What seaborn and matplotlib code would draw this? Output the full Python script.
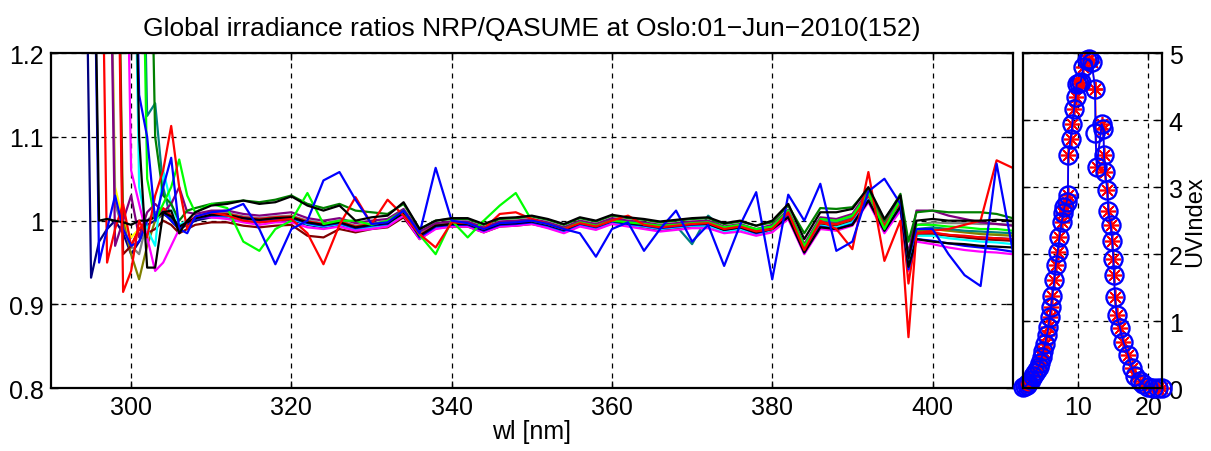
import numpy as np
import pandas as pd
import matplotlib
matplotlib.use('Agg')
import matplotlib.pyplot as plt
import seaborn as sns

nan = np.nan

# wavelength grid [nm]
wl = [294, 295, 296, 297, 298, 299, 300, 301, 302, 303, 304, 305, 306, 307, 308,
      310, 312, 314, 316, 318, 320, 322, 324, 326, 328, 330, 332, 334, 336,
      338, 340, 342, 344, 346, 348, 350, 352, 354, 356, 358, 360, 362, 364, 366, 368, 370, 372, 374, 376, 378, 380,
      382, 384, 386, 388, 390, 392, 394, 396, 397, 398,
      400, 402, 404, 406, 408, 410]

# ratio NRP/QASUME, one list per scan
r_navy = [1.6, 0.932, 0.975, 0.99, 1.0, 0.985, 0.96, 0.975, 0.995, 1.0, 1.008, 1.002, 0.99, 0.995, 1.0,
          1.004, 1.004, 1.0, 0.998, 1.0, 1.001, 0.995, 0.992, 0.995, 0.99, 0.993, 0.995, 1.006, 0.98,
          0.992, 0.994, 0.994, 0.987, 0.994, 0.995, 0.997, 0.993, 0.987, 0.995, 0.991, 0.998, 0.995, 0.993, 0.99, 0.992, 0.994, 0.995, 0.988, 0.991, 0.985, 0.99,
          1.006, 0.964, 0.996, 0.994, 1.0, 1.028, 0.992, 1.02, 0.944, 0.985,
          0.985, 0.983, 0.981, 0.98, 0.979, 0.978]
r_yellow = [nan, nan, nan, 1.6, 1.04, 1.0, 0.98, 0.99, 1.0, 1.005, 1.01, 1.005, 0.995, 1.0, 1.005,
            1.008, 1.007, 1.004, 1.002, 1.003, 1.004, 0.998, 0.996, 0.998, 0.993, 0.996, 0.998, 1.009, 0.983,
            0.995, 0.997, 0.997, 0.99, 0.997, 0.998, 1.0, 0.996, 0.99, 0.998, 0.994, 1.001, 0.998, 0.996, 0.993, 0.995, 0.997, 0.998, 0.991, 0.994, 0.988, 0.993,
            1.006, 0.966, 0.992, 0.988, 0.996, 1.028, 0.993, 1.02, 0.948, 0.988,
            0.99, 0.988, 0.987, 0.985, 0.984, 0.983]
r_olive = [nan, nan, nan, nan, 1.6, 1.0, 0.96, 0.93, 0.97, 1.0, 1.01, 1.0, 0.99, 0.996, 1.002,
           1.006, 1.006, 1.002, 1.0, 1.002, 1.003, 0.997, 0.994, 0.997, 0.991, 0.994, 0.996, 1.008, 0.981,
           0.993, 0.995, 0.995, 0.988, 0.995, 0.996, 0.998, 0.994, 0.988, 0.996, 0.992, 0.999, 0.996, 0.994, 0.991, 0.993, 0.995, 0.996, 0.989, 0.992, 0.986, 0.991,
           1.007, 0.965, 0.997, 0.995, 1.001, 1.029, 0.993, 1.021, 0.946, 0.987,
           0.99, 0.988, 0.986, 0.984, 0.983, 0.982]
r_gray = [nan, nan, nan, 1.6, 1.02, 0.99, 0.97, 0.96, 1.0, 1.01, 1.012, 1.004, 0.993, 0.998, 1.004,
          1.009, 1.009, 1.005, 1.003, 1.005, 1.006, 1.0, 0.997, 1.0, 0.994, 0.997, 0.999, 1.011, 0.984,
          0.996, 0.998, 0.998, 0.991, 0.998, 0.999, 1.001, 0.997, 0.991, 0.999, 0.995, 1.002, 0.999, 0.997, 0.994, 0.996, 0.998, 0.999, 0.992, 0.995, 0.989, 0.994,
          1.011, 0.969, 1.001, 0.999, 1.005, 1.033, 0.997, 1.025, 0.952, 0.995,
          0.998, 0.997, 0.997, 0.996, 0.996, 0.995]
r_teal = [nan, nan, nan, nan, nan, nan, nan, 1.6, 1.125, 1.14, 1.04, 1.0, 0.99, 0.998, 1.003,
          1.007, 1.006, 1.003, 1.001, 1.003, 1.003, 0.997, 0.995, 0.998, 0.992, 0.995, 0.997, 1.009, 0.982,
          0.994, 0.996, 0.996, 0.989, 0.996, 0.997, 0.999, 0.995, 0.989, 0.997, 0.993, 1.0, 0.997, 0.995, 0.992, 0.994, 0.972, 1.006, 0.99, 0.993, 0.987, 0.992,
          1.009, 0.967, 0.999, 0.997, 1.003, 1.031, 0.995, 1.023, 0.948, 0.99,
          0.992, 0.99, 0.988, 0.987, 0.986, 0.985]
r_brown = [nan, nan, nan, nan, 1.6, 0.96, 0.97, 0.99, 0.985, 0.99, 1.0, 0.995, 0.985, 0.99, 0.995,
           0.998, 0.998, 0.994, 0.992, 0.994, 0.995, 0.982, 0.98, 0.99, 0.986, 0.99, 0.992, 1.004, 0.978,
           0.991, 0.993, 0.993, 0.986, 0.993, 0.994, 0.996, 0.992, 0.986, 0.994, 0.99, 0.997, 0.994, 0.992, 0.989, 0.991, 0.993, 0.994, 0.987, 0.99, 0.984, 0.988,
           1.004, 0.963, 0.995, 0.993, 0.999, 1.027, 0.991, 1.019, 0.945, 0.983,
           0.984, 0.982, 0.98, 0.978, 0.977, 0.976]
r_cyan = [nan, nan, nan, nan, nan, nan, 1.6, 1.04, 0.99, 0.97, 1.06, 1.02, 0.995, 1.0, 1.004,
          1.005, 1.005, 1.0, 0.999, 1.001, 1.002, 0.996, 0.993, 0.996, 0.99, 0.993, 0.995, 1.007, 0.98,
          0.992, 0.994, 0.994, 0.987, 0.994, 0.995, 0.997, 0.993, 0.987, 0.995, 0.991, 0.998, 0.995, 0.993, 0.99, 0.992, 0.994, 0.994, 0.987, 0.99, 0.984, 0.989,
          1.005, 0.962, 0.994, 0.992, 0.998, 1.026, 0.99, 1.018, 0.945, 0.982,
          0.982, 0.979, 0.977, 0.975, 0.974, 0.972]
r_magenta = [nan, nan, nan, nan, nan, 1.6, 1.06, 1.02, 0.98, 0.94, 0.95, 0.97, 0.99, 1.0, 1.004,
             1.004, 1.002, 0.998, 0.995, 0.998, 0.998, 0.992, 0.99, 0.993, 0.988, 0.99, 0.993, 1.006, 0.978,
             0.99, 0.993, 0.993, 0.986, 0.993, 0.994, 0.996, 0.991, 0.985, 0.993, 0.989, 0.996, 0.993, 0.99, 0.987, 0.989, 0.991, 0.991, 0.985, 0.987, 0.982, 0.986,
             1.002, 0.96, 0.99, 0.988, 0.994, 1.022, 0.985, 1.012, 0.94, 0.975,
             0.972, 0.968, 0.965, 0.963, 0.962, 0.96]
r_purple = [nan, nan, nan, 1.6, 0.97, 1.0, 1.03, 0.98, 1.01, 1.02, 1.01, 1.02, 1.04, 1.01, 1.008,
            1.012, 1.012, 1.008, 1.006, 1.008, 1.01, 1.003, 1.0, 1.003, 0.997, 1.0, 1.002, 1.014, 0.987,
            0.997, 0.999, 0.999, 0.992, 0.999, 1.0, 1.002, 0.998, 0.992, 1.0, 0.996, 1.003, 1.0, 0.998, 0.995, 0.997, 0.999, 1.0, 0.993, 0.996, 0.99, 0.995,
            1.013, 0.972, 1.004, 1.002, 1.008, 1.036, 1.0, 1.028, 0.96, 1.012,
            1.012, 1.006, 1.002, 0.998, 0.996, 0.994]
r_red2 = [nan, nan, 1.6, 0.95, 0.99, 1.02, 0.97, 0.99, 1.0, 1.005, 1.015, 1.006, 0.992, 0.998, 1.004,
          1.008, 1.008, 1.004, 1.002, 1.004, 1.005, 0.999, 0.996, 0.999, 0.993, 0.996, 0.998, 1.01, 0.983,
          0.994, 0.996, 0.996, 0.989, 0.996, 0.997, 0.999, 0.995, 0.989, 0.997, 0.993, 1.0, 0.997, 0.995, 0.992, 0.994, 0.996, 0.997, 0.99, 0.993, 0.987, 0.992,
          1.008, 0.966, 0.998, 0.996, 1.002, 1.03, 0.994, 1.022, 0.925, 0.985,
          0.986, 0.983, 0.982, 0.98, 0.979, 0.978]
r_blue2 = [nan, 1.6, 0.95, 0.99, 1.03, 0.99, 0.97, 0.975, 1.0, 1.005, 1.01, 1.0, 0.99, 0.996, 1.002,
           1.006, 1.006, 1.003, 1.0, 1.002, 1.003, 0.997, 0.994, 0.997, 0.991, 0.994, 0.996, 1.012, 0.98,
           0.993, 0.995, 0.995, 0.988, 0.995, 0.996, 0.998, 0.994, 0.988, 0.996, 0.992, 0.999, 0.996, 0.994, 0.991, 0.993, 0.995, 0.996, 0.989, 0.992, 0.985, 0.99,
           1.005, 0.962, 0.993, 0.99, 0.996, 1.024, 0.988, 1.016, 0.942, 0.978,
           0.976, 0.973, 0.97, 0.968, 0.966, 0.963]
r_black2 = [nan, 1.6, 1.0, 1.002, 1.0, 0.998, 0.995, 1.0, 1.0, 1.004, 1.01, 1.005, 0.993, 0.998, 1.003,
            1.007, 1.007, 1.003, 1.001, 1.003, 1.004, 0.998, 0.995, 0.998, 0.992, 0.995, 0.997, 1.009, 0.982,
            0.994, 0.996, 0.996, 0.989, 0.996, 0.997, 0.999, 0.995, 0.989, 0.997, 0.993, 1.0, 0.997, 0.995, 0.992, 0.994, 0.996, 0.996, 0.989, 0.992, 0.986, 0.99,
            1.004, 0.962, 0.992, 0.99, 0.995, 1.024, 0.988, 1.017, 0.945, 0.978,
            0.975, 0.973, 0.972, 0.97, 0.969, 0.968]
r_dkgreen = [nan, nan, nan, nan, nan, nan, nan, nan, 1.6, 1.1, 1.03, 1.02, 1.0, 1.012, 1.015,
             1.02, 1.022, 1.024, 1.022, 1.025, 1.03, 1.02, 1.015, 1.02, 1.012, 1.01, 1.008, 1.02, 0.99,
             1.0, 1.002, 1.002, 0.995, 1.002, 1.003, 1.005, 1.001, 0.995, 1.003, 0.999, 1.006, 1.003, 1.001, 0.998, 1.0, 1.002, 1.003, 0.996, 0.999, 0.994, 0.998,
             1.018, 0.985, 1.015, 1.014, 1.016, 1.038, 1.0, 1.032, 0.975, 1.01,
             1.012, 1.01, 1.01, 1.01, 1.008, 1.003]
r_green = [nan, nan, nan, nan, nan, nan, nan, 1.6, 1.05, 1.0, 1.02, 1.04, 1.073, 1.03, 1.01,
           1.02, 1.015, 0.975, 0.964, 0.99, 1.0, 1.033, 0.996, 1.0, 1.0, 0.995, 1.0, 1.012, 0.983,
           0.96, 1.0, 0.98, 1.0, 1.018, 1.033, 1.0, 0.996, 0.99, 0.998, 0.994, 1.0, 0.998, 0.996, 0.994, 0.995, 0.997, 0.998, 0.992, 0.995, 0.99, 0.993,
           1.012, 0.97, 1.002, 1.0, 1.006, 1.033, 0.99, 1.026, 0.955, 0.995,
           0.995, 0.993, 0.992, 0.99, 0.99, 0.988]
r_red = [nan, nan, nan, nan, 1.6, 0.915, 0.94, 1.0, 0.98, 1.03, 1.06, 1.113, 1.04, 0.99, 1.005,
         1.01, 1.006, 1.0, 0.998, 1.0, 1.002, 0.985, 0.948, 0.995, 1.028, 0.996, 1.025, 1.006, 0.984,
         0.968, 0.998, 0.997, 0.99, 1.008, 1.01, 1.002, 0.996, 0.99, 0.997, 0.993, 1.0, 1.006, 0.995, 0.992, 0.994, 0.996, 0.997, 0.99, 0.993, 0.987, 0.99,
         1.01, 0.965, 1.0, 0.99, 0.966, 1.058, 0.952, 1.0, 0.861, 0.985,
         0.988, 0.99, 0.995, 1.0, 1.072, 1.063]
r_blue = [nan, nan, nan, nan, nan, nan, 1.6, 1.15, 1.1, 1.0, 1.04, 1.075, 0.99, 0.985, 1.005,
          1.01, 1.012, 1.02, 0.99, 0.948, 0.99, 1.0, 1.048, 1.058, 1.025, 0.996, 0.998, 1.012, 0.985,
          1.063, 1.0, 0.997, 0.99, 0.997, 0.998, 1.0, 0.996, 0.99, 0.985, 0.957, 0.99, 0.998, 0.964, 0.99, 1.012, 0.975, 0.995, 0.946, 0.995, 1.034, 0.93,
          1.031, 1.0, 1.044, 0.964, 0.975, 1.035, 1.05, 1.02, 0.955, 0.99,
          0.99, 0.96, 0.935, 0.922, 1.068, 0.965]
r_black = [nan, nan, nan, nan, nan, nan, 1.6, 1.1, 0.944, 0.944, 1.01, 1.012, 0.985, 1.0, 1.01,
           1.018, 1.02, 1.024, 1.02, 1.022, 1.029, 1.018, 1.012, 1.018, 1.0, 1.004, 1.006, 1.022, 0.99,
           1.0, 1.003, 1.003, 0.996, 1.003, 1.004, 1.006, 1.002, 0.996, 1.004, 1.0, 1.007, 1.004, 1.002, 0.999, 1.001, 1.003, 1.004, 0.997, 1.0, 0.994, 1.0,
           1.02, 0.978, 1.01, 1.01, 1.014, 1.04, 1.002, 1.03, 0.955, 1.0,
           1.002, 1.0, 1.0, 1.0, 1.001, 1.0]

scans = {
    'navy': (r_navy, (0, 0, 0.5)),
    'yellow': (r_yellow, (1, 1, 0)),
    'olive': (r_olive, (0.5, 0.5, 0)),
    'gray': (r_gray, (0.5, 0.5, 0.5)),
    'teal': (r_teal, (0, 0.5, 0.5)),
    'brown': (r_brown, (0.5, 0, 0)),
    'cyan': (r_cyan, (0, 1, 1)),
    'magenta': (r_magenta, (1, 0, 1)),
    'purple': (r_purple, (0.5, 0, 0.5)),
    'red2': (r_red2, (1, 0, 0)),
    'blue2': (r_blue2, (0, 0, 1)),
    'black2': (r_black2, (0, 0, 0)),
    'dkgreen': (r_dkgreen, (0, 0.5, 0)),
    'green': (r_green, (0, 1, 0)),
    'red': (r_red, (1, 0, 0)),
    'blue': (r_blue, (0, 0, 1)),
    'black': (r_black, (0, 0, 0)),
}

# UV index time series (hours)
uv_time = [2.2, 2.5, 2.8, 3.0, 3.35, 3.7, 3.95, 4.2, 4.45, 4.66, 4.9, 5.13, 5.37, 5.61, 5.84,
           6.0, 6.22, 6.4, 6.69, 6.88, 7.17, 7.4, 7.73, 7.96, 8.1, 8.44, 8.6, 8.67, 9.0, 9.24,
           9.48, 9.72, 9.86, 10.2, 10.42, 10.8, 11.27, 11.64, 11.98, 12.45, 12.5, 12.69, 13.4, 13.63,
           13.72, 13.87, 14.2, 14.34, 14.68, 14.9, 15.05, 15.14, 15.28, 15.52, 15.99, 16.46, 17.17,
           17.64, 18.1, 18.8, 19.3, 20.0, 20.7, 21.4, 21.9]
uv_qasume = [0.02, 0.03, 0.05, 0.08, 0.13, 0.19, 0.23, 0.27, 0.32, 0.37, 0.46, 0.56, 0.66, 0.79, 0.91,
             1.06, 1.21, 1.38, 1.62, 1.84, 2.04, 2.25, 2.48, 2.62, 2.7, 2.78, 2.89, 3.48, 3.72, 3.94,
             4.17, 4.34, 4.54, 4.56, 4.57, 4.79, 4.89, 4.91, 4.87, 4.47, 3.81, 3.3, 3.94, 3.87,
             3.48, 3.22, 2.95, 2.65, 2.43, 2.19, 1.93, 1.69, 1.36, 1.09, 0.9, 0.69, 0.49,
             0.31, 0.19, 0.11, 0.06, 0.02, 0.01, 0.0, 0.0]
uv_nrp = [0.02, 0.03, 0.05, 0.08, 0.13, 0.19, 0.23, 0.27, 0.32, 0.37, 0.46, 0.56, 0.66, 0.79, 0.91,
          1.06, 1.21, 1.38, 1.62, 1.84, 2.04, 2.25, 2.48, 2.62, 2.7, 2.78, 2.89, 3.48, 3.72, 3.94,
          4.17, 4.34, 4.54, 4.56, 4.57, 4.79, 4.89, 4.91, 4.87, 4.47, 4.47, 3.3, 3.94, 3.87,
          3.48, 3.22, 2.95, 2.65, 2.43, 2.19, 1.93, 1.69, 1.36, 1.09, 0.9, 0.69, 0.49,
          0.31, 0.19, 0.11, 0.06, 0.02, 0.01, 0.0, 0.0]

title = 'Global irradiance ratios NRP/QASUME at Oslo:01\u2212Jun\u22122010(152)'

sns.set_theme(style='white')
plt.rcParams['font.family'] = ['Liberation Sans', 'DejaVu Sans']
plt.rcParams['axes.unicode_minus'] = True
plt.rcParams['text.color'] = 'black'
plt.rcParams['axes.labelcolor'] = 'black'

rows = []
for name, (vals, col) in scans.items():
    for w, v in zip(wl, vals):
        rows.append((name, w, v))
df = pd.DataFrame(rows, columns=['scan', 'wl', 'ratio'])
palette = {name: col for name, (vals, col) in scans.items()}

fig = plt.figure(figsize=(12.11, 4.52), dpi=100)
ax = fig.add_axes([0.0421, 0.1387, 0.7941, 0.7418])
ax2 = fig.add_axes([0.8445, 0.1387, 0.1148, 0.7418])

sns.lineplot(data=df, x='wl', y='ratio', hue='scan', hue_order=list(scans.keys()),
             palette=palette, estimator=None, sort=False, linewidth=1.6, legend=False, ax=ax)

ax.set_xlim(290, 410)
ax.set_ylim(0.8, 1.2)
ax.set_xticks([300, 320, 340, 360, 380, 400])
ax.set_yticks([0.8, 0.9, 1.0, 1.1, 1.2])
ax.set_yticklabels(['0.8', '0.9', '1', '1.1', '1.2'])
ax.set_xlabel('wl [nm]', fontsize=18, labelpad=0, color='black')
ax.set_ylabel('')
ax.set_title(title, fontsize=19, pad=13, color='black')

# UV index panel
sns.lineplot(x=uv_time, y=uv_nrp, color='red', marker=(8, 2, 0), markersize=11,
             markeredgewidth=1.2, markeredgecolor='red', linewidth=1.0,
             estimator=None, sort=False, ax=ax2, clip_on=False)
sns.lineplot(x=uv_time, y=uv_qasume, color='blue', marker='o', markersize=13,
             markerfacecolor='none', markeredgecolor='blue', markeredgewidth=1.7,
             linewidth=1.3, estimator=None, sort=False, ax=ax2, clip_on=False)
ax2.set_xlim(2.2, 21.9)
ax2.set_ylim(0, 5)
ax2.set_xticks([10, 20])
ax2.set_yticks([0, 1, 2, 3, 4, 5])
ax2.yaxis.tick_right()
ax2.yaxis.set_label_position('right')
ax2.set_ylabel('UVIndex', fontsize=17, labelpad=1, color='black')
ax2.set_xlabel('')

for a in (ax, ax2):
    a.grid(True, color='black', linestyle=(0, (4, 4)), linewidth=0.9)
    a.tick_params(direction='in', length=5, width=1.0, labelsize=18, colors='black',
                  top=True, bottom=True, left=True, right=True, pad=5)
    for s in a.spines.values():
        s.set_color('black')
        s.set_linewidth(1.6)
    a.set_facecolor('white')
ax2.tick_params(labelleft=False, labelright=True)

fig.savefig('out.png', dpi=100, facecolor='white')
